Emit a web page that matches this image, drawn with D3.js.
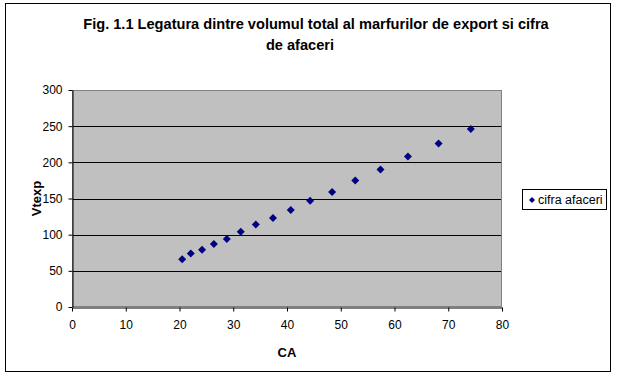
<!DOCTYPE html>
<html><head><meta charset="utf-8">
<script src="https://cdn.jsdelivr.net/npm/d3@7"></script>
<style>body{margin:0;background:#fff}svg{display:block}</style>
</head><body>
<script>
const titleLines = ["Fig. 1.1 Legatura dintre volumul total al marfurilor de export si cifra", "de afaceri"];
const xLabel = "CA";
const yLabel = "Vtexp";
const seriesName = "cifra afaceri";
const caValues = [20.5, 22.1, 24.2, 26.4, 28.8, 31.4, 34.2, 37.4, 40.7, 44.3, 48.4, 52.7, 57.4, 62.5, 68.2, 74.2];
const vtexpValues = [66, 74, 79, 87, 94, 104, 114, 123, 134, 147, 159, 175, 190, 208, 226, 246];
const xTicks = [0, 10, 20, 30, 40, 50, 60, 70, 80];
const yTicks = [0, 50, 100, 150, 200, 250, 300];

const W = 618, H = 378;
const svg = d3.select("body").append("svg").attr("width", W).attr("height", H);
svg.append("rect").attr("x", 5.5).attr("y", 3.5).attr("width", 605).attr("height", 368)
  .attr("fill", "#fff").attr("stroke", "#000").attr("stroke-width", 1);

const L = 72, R = 502, T = 90, B = 307;
const x = d3.scaleLinear().domain([0, 80]).range([L, R]);
const y = d3.scaleLinear().domain([0, 300]).range([B, T]);

svg.append("rect").attr("x", L).attr("y", T).attr("width", R - L).attr("height", B - T)
  .attr("fill", "#c0c0c0");
svg.append("g").selectAll("line").data(yTicks.filter(v => v > 0 && v < 300)).join("line")
  .attr("x1", L).attr("x2", R).attr("y1", d => Math.round(y(d)) + 0.5).attr("y2", d => Math.round(y(d)) + 0.5)
  .attr("stroke", "#000").attr("stroke-width", 1);
svg.append("rect").attr("x", L + 0.5).attr("y", T + 0.5).attr("width", R - L - 1).attr("height", B - T - 1)
  .attr("fill", "none").attr("stroke", "#808080").attr("stroke-width", 1);

const font = "'Liberation Sans', Arial, sans-serif";
const xAxis = svg.append("g").attr("transform", `translate(0,${B + 0.5})`)
  .call(d3.axisBottom(x).tickValues(xTicks).tickSize(4).tickPadding(9).tickSizeOuter(0));
const yAxis = svg.append("g").attr("transform", `translate(${L + 0.5},0)`)
  .call(d3.axisLeft(y).tickValues(yTicks).tickSize(4).tickPadding(6).tickSizeOuter(0));
[xAxis, yAxis].forEach(a => {
  a.select(".domain").attr("stroke", "#000");
  a.selectAll(".tick line").attr("stroke", "#000");
  a.selectAll("text").attr("font-family", font).attr("font-size", 12).attr("fill", "#000");
});

const diamond = "M0,-4L4,0L0,4L-4,0Z";
svg.append("g").selectAll("path").data(caValues.map((c, i) => [c, vtexpValues[i]])).join("path")
  .attr("d", diamond).attr("transform", d => `translate(${x(d[0])},${y(d[1])})`)
  .attr("fill", "#000080");

svg.append("g").selectAll("text").data(titleLines).join("text")
  .attr("x", (d, i) => i === 0 ? 316 : 300).attr("y", (d, i) => 29 + i * 21).attr("text-anchor", "middle")
  .attr("font-family", font).attr("font-weight", "bold").attr("font-size", 14.6).text(d => d);

svg.append("text").attr("x", 287).attr("y", 357).attr("text-anchor", "middle")
  .attr("font-family", font).attr("font-weight", "bold").attr("font-size", 13).text(xLabel);
svg.append("text").attr("transform", `translate(41,${(T + B) / 2}) rotate(-90)`).attr("text-anchor", "middle")
  .attr("font-family", font).attr("font-weight", "bold").attr("font-size", 13).text(yLabel);

const lg = svg.append("g");
lg.append("rect").attr("x", 522.5).attr("y", 189.5).attr("width", 84).attr("height", 20)
  .attr("fill", "#fff").attr("stroke", "#000");
lg.append("path").attr("d", "M0,-3L3,0L0,3L-3,0Z").attr("transform", "translate(532,200)").attr("fill", "#000080");
lg.append("text").attr("x", 538).attr("y", 204).attr("font-family", font).attr("font-size", 12.5).text(seriesName);
</script>
</body></html>
